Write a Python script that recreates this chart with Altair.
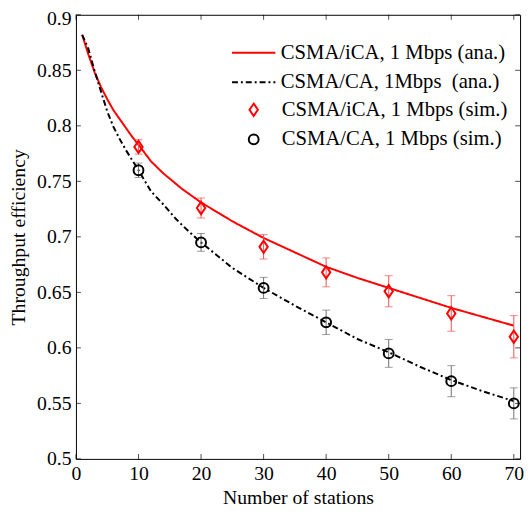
import altair as alt
import pandas as pd

# ---------------- data ----------------
n_ica_ana = [1, 2, 3, 4, 5, 6, 7, 8, 9, 10, 12, 14, 17, 20, 25, 30, 35, 40, 45, 50, 55, 60, 65, 70]
ica_ana = [0.882, 0.864, 0.848, 0.835, 0.824, 0.814, 0.806, 0.798, 0.790, 0.783, 0.768, 0.757,
           0.743, 0.731, 0.714, 0.699, 0.686, 0.673, 0.663, 0.654, 0.645, 0.636, 0.628, 0.620]

n_ca_ana = [1, 2, 3, 4, 5, 6, 7, 8, 10, 12, 14, 16, 18, 20, 25, 30, 35, 40, 45, 50, 55, 60, 65, 70]
ca_ana = [0.882, 0.869, 0.849, 0.831, 0.813, 0.799, 0.788, 0.778, 0.760, 0.741, 0.729, 0.716,
          0.705, 0.695, 0.672, 0.654, 0.638, 0.623, 0.608, 0.596, 0.583, 0.571, 0.561, 0.552]

n_sim = [10, 20, 30, 40, 50, 60, 70]
ica_sim = [0.781, 0.726, 0.691, 0.668, 0.651, 0.631, 0.610]
ica_err = [0.0065, 0.009, 0.011, 0.013, 0.014, 0.016, 0.019]
ca_sim = [0.760, 0.695, 0.654, 0.623, 0.595, 0.570, 0.550]
ca_err = [0.0065, 0.008, 0.0095, 0.011, 0.0125, 0.014, 0.014]

line_labels = ["CSMA/iCA, 1 Mbps (ana.)", "CSMA/CA, 1Mbps \u00a0(ana.)"]
sim_labels = ["CSMA/iCA, 1 Mbps (sim.)", "CSMA/CA, 1 Mbps (sim.)"]

x_ticks = [0, 10, 20, 30, 40, 50, 60, 70]
y_ticks = [0.5, 0.55, 0.6, 0.65, 0.7, 0.75, 0.8, 0.85, 0.9]
x_domain = [0, 71]
y_domain = [0.5, 0.9]

# ---------------- tables ----------------
lines_df = pd.concat([
    pd.DataFrame({"n": n_ica_ana, "v": ica_ana, "s": line_labels[0]}),
    pd.DataFrame({"n": n_ca_ana, "v": ca_ana, "s": line_labels[1]}),
])
sim_df = pd.concat([
    pd.DataFrame({"n": n_sim, "v": ica_sim,
                  "lo": [a - b for a, b in zip(ica_sim, ica_err)],
                  "hi": [a + b for a, b in zip(ica_sim, ica_err)], "s": sim_labels[0]}),
    pd.DataFrame({"n": n_sim, "v": ca_sim,
                  "lo": [a - b for a, b in zip(ca_sim, ca_err)],
                  "hi": [a + b for a, b in zip(ca_sim, ca_err)], "s": sim_labels[1]}),
])
xt_df = pd.DataFrame({"n": x_ticks})
yt_df = pd.DataFrame({"v": y_ticks})

W, H = 451, 451
FONT = "Liberation Serif"
XT = "Number of stations"
YT = "Throughput efficiency"

xscale = alt.Scale(domain=x_domain, nice=False, zero=False)
yscale = alt.Scale(domain=y_domain, nice=False, zero=False)

xaxis = alt.Axis(values=x_ticks, grid=False, ticks=False, domain=False, labelFlush=False,
                 labelPadding=5, titlePadding=4, format="d")
yaxis = alt.Axis(values=y_ticks, grid=False, ticks=False, domain=False, labelFlush=False,
                 labelPadding=5, titlePadding=8, format=".2~f",
                 labelOffset=alt.condition("datum.value >= 0.89", alt.value(4), alt.value(0)))


def X(field="n"):
    return alt.X(f"{field}:Q", scale=xscale, axis=xaxis, title=XT)


def Y(field="v"):
    return alt.Y(f"{field}:Q", scale=yscale, axis=yaxis, title=YT)


def leg(x, y, sym, size, offset):
    return alt.Legend(title=None, orient="none", legendX=x, legendY=y,
                      symbolType=sym, symbolSize=size, symbolStrokeWidth=2,
                      symbolFillColor="transparent",
                      labelFont=FONT, labelFontSize=21, labelOffset=offset,
                      rowPadding=8, padding=0, labelLimit=400)


line_leg = leg(170, 28, "M-4,0L4,0", 121, 17)
pt_leg = leg(170, 86, "circle", 100, 18)

lines = alt.Chart(lines_df).mark_line(strokeWidth=2).encode(
    x=X(), y=Y(),
    stroke=alt.Stroke("s:N", scale=alt.Scale(domain=line_labels, range=["#ff0000", "#000000"]),
                      legend=line_leg),
    strokeDash=alt.StrokeDash("s:N", scale=alt.Scale(domain=line_labels, range=[[1, 0], [6, 3, 2, 3]]),
                              legend=line_leg),
)

ica_bar = alt.Chart(sim_df[sim_df["s"] == sim_labels[0]]).mark_errorbar(
    ticks={"size": 8, "color": "#f05050"}, color="#f05050", thickness=1
).encode(x=X(), y=Y("lo"), y2="hi:Q")
ca_bar = alt.Chart(sim_df[sim_df["s"] == sim_labels[1]]).mark_errorbar(
    ticks={"size": 8, "color": "#707070"}, color="#707070", thickness=1
).encode(x=X(), y=Y("lo"), y2="hi:Q")

diamond = "M0,-1.25L0.85,0L0,1.25L-0.85,0Z"
pts = alt.Chart(sim_df).mark_point(filled=False, strokeWidth=2, size=100, opacity=1).encode(
    x=X(), y=Y(),
    color=alt.Color("s:N", scale=alt.Scale(domain=sim_labels, range=["#ff0000", "#000000"]),
                    legend=pt_leg),
    shape=alt.Shape("s:N", scale=alt.Scale(domain=sim_labels, range=[diamond, "circle"]),
                    legend=pt_leg),
)

# inward tick marks on all four sides
yt_left = alt.Chart(yt_df).mark_tick(orient="horizontal", size=5, thickness=1, color="black").encode(
    y=Y(), x=alt.value(2.5))
yt_right = alt.Chart(yt_df).mark_tick(orient="horizontal", size=5, thickness=1, color="black").encode(
    y=Y(), x=alt.value(W - 2.5))
xt_bot = alt.Chart(xt_df).mark_tick(orient="vertical", size=5, thickness=1, color="black").encode(
    x=X(), y=alt.value(H - 2.5))
xt_top = alt.Chart(xt_df).mark_tick(orient="vertical", size=5, thickness=1, color="black").encode(
    x=X(), y=alt.value(2.5))

chart = alt.layer(
    yt_left, yt_right, xt_bot, xt_top, lines, ica_bar, ca_bar, pts
).properties(
    width=W, height=H,
    autosize=alt.AutoSizeParams(type="none"),
    padding={"left": 69, "top": 3, "right": 4, "bottom": 48},
).configure_view(
    stroke="black", strokeWidth=1
).configure_axis(
    labelFont=FONT, labelFontSize=20, labelColor="black",
    titleFont=FONT, titleFontSize=20, titleFontWeight="normal", titleColor="black",
).configure_legend(
    labelColor="black"
)

chart.save("out.html", embed_options={"renderer": "svg", "actions": False})
